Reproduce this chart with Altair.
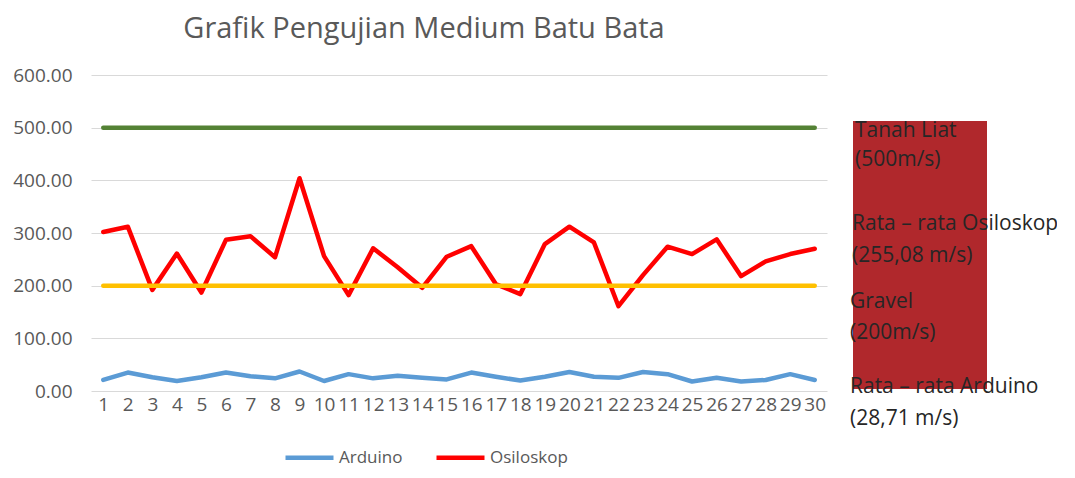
import altair as alt
import pandas as pd

# ---- data ----
categories = [str(i) for i in range(1, 31)]
osiloskop = [302, 312, 192, 261, 187, 287, 294, 254, 404, 256,
             182, 271, 235, 196, 255, 275, 203, 184, 279, 312,
             282, 161, 220, 274, 260, 288, 218, 246, 260, 270]
arduino = [21, 35, 26, 19, 26, 35, 28, 24, 37, 19,
           32, 24, 29, 25, 22, 35, 27, 20, 27, 36,
           27, 25, 36, 32, 18, 25, 18, 21, 32, 21]
reference_names = ["Tanah Liat", "Gravel"]
reference_values = [500, 200]
series_names = ["Arduino", "Osiloskop", "Tanah Liat", "Gravel"]
series_colors = ["#5B9BD5", "#FF0000", "#548235", "#FFC000"]
y_ticks = [0, 100, 200, 300, 400, 500, 600]
annotation_lines = ["Tanah Liat", "(500m/s)",
                    "Rata \u2013 rata Osiloskop", "(255,08 m/s)",
                    "Gravel", "(200m/s)",
                    "Rata \u2013 rata Arduino", "(28,71 m/s)"]
title_text = "Grafik Pengujian Medium Batu Bata"

FONT = "Open Sans"

main_df = pd.DataFrame({
    "cat": categories * 2,
    "value": arduino + osiloskop,
    "series": ["Arduino"] * len(categories) + ["Osiloskop"] * len(categories),
})
ref_rows = []
for name, val in zip(reference_names, reference_values):
    ref_rows.append({"cat": categories[0], "value": val, "series": name})
    ref_rows.append({"cat": categories[-1], "value": val, "series": name})
ref_df = pd.DataFrame(ref_rows)

x_enc = alt.X("cat:N", sort=categories, title=None,
              scale=alt.Scale(paddingInner=0, paddingOuter=0),
              axis=alt.Axis(labelAngle=0, ticks=False, domain=False, grid=False,
                            labelFontSize=19, labelFont=FONT, labelColor="#595959",
                            labelPadding=4, labelOverlap=False, tickSize=0))
y_enc = alt.Y("value:Q", title=None,
              scale=alt.Scale(domain=[0, 600], nice=False),
              axis=alt.Axis(values=y_ticks, format=".2f", ticks=False, tickSize=0,
                            domain=False, grid=True, gridColor="#D9D9D9",
                            labelFontSize=19, labelFont=FONT, labelColor="#595959",
                            labelPadding=19))
color_enc = alt.Color("series:N",
                      scale=alt.Scale(domain=series_names, range=series_colors),
                      legend=alt.Legend(values=["Arduino", "Osiloskop"], title=None,
                                        orient="none", legendX=192, legendY=356,
                                        direction="horizontal", symbolType="stroke",
                                        symbolSize=2304, symbolStrokeWidth=4.5,
                                        labelFontSize=17, labelFont=FONT,
                                        labelColor="#595959", labelOffset=3,
                                        columnPadding=24))

main = alt.Chart(main_df).mark_line(strokeWidth=4.5, strokeCap="round",
                                    strokeJoin="round").encode(
    x=x_enc, y=y_enc, color=color_enc, detail="series:N")

refs = alt.Chart(ref_df).mark_line(strokeWidth=4.5, strokeCap="round").encode(
    x=x_enc, y=y_enc, color=color_enc, detail="series:N")

dummy = pd.DataFrame({"d": [0]})
box = alt.Chart(dummy).mark_rect(color="#B0282C").encode(
    x=alt.value(762), x2=alt.value(896), y=alt.value(46), y2=alt.value(314))

ann_x = [764, 764, 761, 761, 759, 759, 759, 759]
ann_y = [56, 85, 149, 181, 227, 258, 312, 344]
texts = []
for label, ax, ay in zip(annotation_lines, ann_x, ann_y):
    texts.append(alt.Chart(dummy).mark_text(
        text=label, align="left", baseline="middle", font=FONT,
        fontSize=21, color="#262626").encode(x=alt.value(ax), y=alt.value(ay)))

chart = alt.layer(main, refs, box, *texts).properties(
    width=736, height=316,
    title=alt.TitleParams(title_text, font=FONT, fontSize=29, fontWeight="normal",
                          color="#595959", anchor="middle", dx=-35, offset=22),
    autosize=alt.AutoSizeParams(type="none"),
    padding={"left": 83, "top": 67, "right": 230, "bottom": 79},
).configure_view(stroke=None)

chart.save("out.html", embed_options={"renderer": "svg", "actions": False})
